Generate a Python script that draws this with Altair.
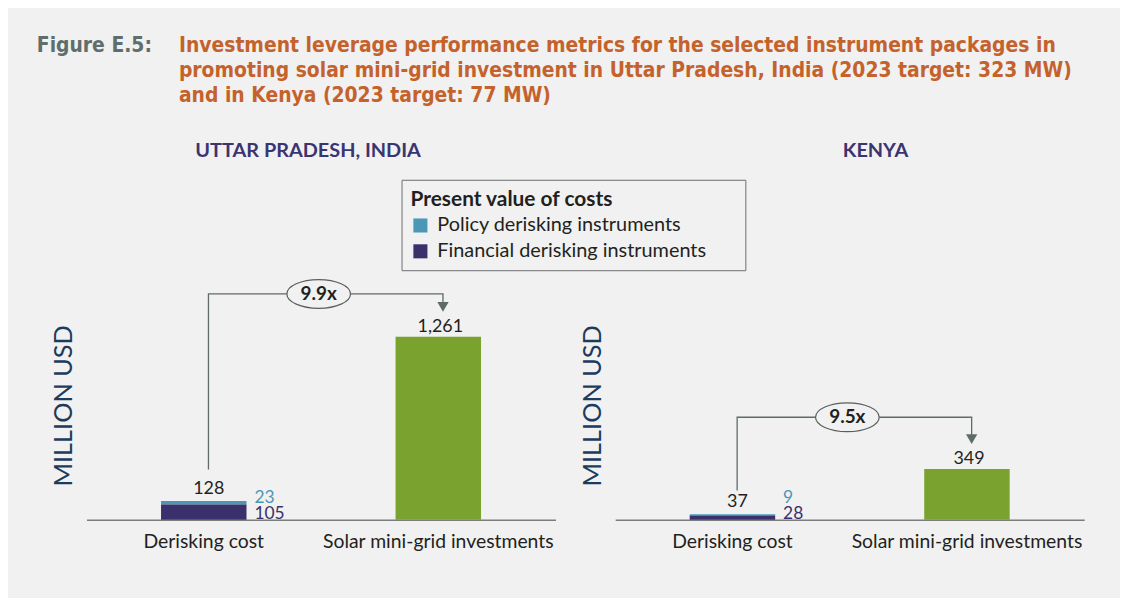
import altair as alt
import pandas as pd

# ---------------- data ----------------
panels = ["UTTAR PRADESH, INDIA", "KENYA"]
categories = ["Derisking cost", "Solar mini-grid investments"]
components = ["Policy derisking instruments", "Financial derisking instruments"]
policy_cost = [23, 9]
financial_cost = [105, 28]
derisking_total = [128, 37]
solar_investment = [1261, 349]
leverage = ["9.9x", "9.5x"]
# annotation bracket heights (million USD)
bracket_start = [345, 201]
bracket_level = [1556, 706]

title_lead = "Figure E.5:"
title_lines = [
    "Investment leverage performance metrics for the selected instrument packages in",
    "promoting solar mini-grid investment in Uttar Pradesh, India (2023 target: 323 MW)",
    "and in Kenya (2023 target: 77 MW)",
]
legend_title = "Present value of costs"
y_title = "MILLION USD"

# ---------------- style ----------------
BG = "#f0f1f0"
GREEN = "#7aa22f"
PURPLE = "#3a306b"
TEAL = "#4b98b6"
TXT = "#231f20"
LINE = "#5f6b68"
FONT = "Lato"
TFONT = "DejaVu Sans Condensed"

Y_MAX = 1576
PLOT_W = 472
PLOT_H = 230
GAP = 60
UPX = Y_MAX / PLOT_H  # data units per pixel


def x_enc(field="category", band=None):
    kw = {}
    if band is not None:
        kw["bandPosition"] = band
    return alt.X(
        f"{field}:N",
        scale=alt.Scale(domain=categories, paddingInner=0, paddingOuter=0),
        axis=alt.Axis(
            title=None, labelAngle=0, ticks=False, grid=False,
            domainColor="#7b7d7c", domainWidth=1.5, labelLimit=400,
            labelFont=FONT, labelFontSize=19.5, labelColor=TXT, labelPadding=13,
        ),
        **kw,
    )


def y_enc(field):
    return alt.Y(
        f"{field}:Q",
        scale=alt.Scale(domain=[0, Y_MAX]),
        axis=alt.Axis(
            title=y_title, labels=False, ticks=False, domain=False, grid=False,
            titleFont=FONT, titleFontSize=25.5, titleFontWeight="normal",
            titleColor="#1c3c5e", titlePadding=10,
        ),
    )


def panel(i, first):
    stack = pd.DataFrame({
        "category": [categories[0]] * 2,
        "component": components,
        "value": [policy_cost[i], financial_cost[i]],
        "ord": [1, 0],
    })
    total = pd.DataFrame({"category": [categories[0]], "value": [derisking_total[i]]})
    solar = pd.DataFrame({"category": [categories[1]], "value": [solar_investment[i]]})
    comp = pd.DataFrame({
        "category": [categories[0]] * 2,
        "component": components,
        "value": [policy_cost[i], financial_cost[i]],
        "zero": [0, 0],
    })
    arrow_c = solar_investment[i] + 30 * UPX
    bracket = pd.DataFrame({
        "category": [categories[0], categories[0], categories[1], categories[1]],
        "y": [bracket_start[i], bracket_level[i], bracket_level[i], arrow_c],
        "ord": [0, 1, 2, 3],
    })
    arrow = pd.DataFrame({"category": [categories[1]], "y": [arrow_c]})
    badge = pd.DataFrame({"category": [categories[0]], "y": [bracket_level[i]],
                          "label": [leverage[i]]})
    ptitle = pd.DataFrame({"t": [panels[i]]})

    legend = None
    if first:
        legend = alt.Legend(
            orient="none", legendX=317, legendY=-112, title=legend_title,
            titleFont=FONT, titleFontSize=21, titleFontWeight="bold", titleColor=TXT,
            titleLimit=400, labelLimit=400,
            labelFont=FONT, labelFontSize=20, labelColor=TXT,
            symbolType="square", symbolSize=200, symbolStrokeWidth=0,
            strokeColor="#6d6e70", padding=9, rowPadding=6, titlePadding=6,
            labelOffset=7, labelExpr="datum.label + '\u2003\u2003\u200b'",
        )

    bars = alt.Chart(stack).mark_bar(size=86).encode(
        x=x_enc(),
        y=y_enc("value"),
        color=alt.Color("component:N",
                        scale=alt.Scale(domain=components, range=[TEAL, PURPLE]),
                        legend=legend),
        order=alt.Order("ord:Q", sort="ascending"),
    )
    solar_bar = alt.Chart(solar).mark_bar(size=86, color=GREEN).encode(
        x=x_enc(), y=y_enc("value"))
    total_lbl = alt.Chart(total).mark_text(
        font=FONT, fontSize=18, color=TXT, dx=5, dy=-7, baseline="alphabetic"
    ).encode(x=x_enc(), y=y_enc("value"), text="value:Q")
    solar_lbl = alt.Chart(solar).mark_text(
        font=FONT, fontSize=18, color=TXT, dx=2, dy=-5, baseline="alphabetic"
    ).encode(x=x_enc(), y=y_enc("value"), text=alt.Text("value:Q", format=","))
    pol_lbl = alt.Chart(comp[comp.component == components[0]]).mark_text(
        font=FONT, fontSize=17.5, color=TEAL, dx=51, dy=-17, align="left",
        baseline="alphabetic"
    ).encode(x=x_enc(), y=y_enc("zero"), text="value:Q")
    fin_lbl = alt.Chart(comp[comp.component == components[1]]).mark_text(
        font=FONT, fontSize=17.5, color=PURPLE, dx=51, dy=-1, align="left",
        baseline="alphabetic"
    ).encode(x=x_enc(), y=y_enc("zero"), text="value:Q")
    br = alt.Chart(bracket).mark_line(color=LINE, strokeWidth=1.3).encode(
        x=x_enc(band=0.52), y=y_enc("y"), order="ord:Q")
    tri = alt.Chart(arrow).mark_point(
        shape="triangle-down", filled=True, color=LINE, size=130, opacity=1
    ).encode(x=x_enc(band=0.52), y=y_enc("y"))
    ell = alt.Chart(badge).mark_point(
        shape="M-1,0A1,0.453,0,1,1,1,0A1,0.453,0,1,1,-1,0Z",
        filled=True, fill=BG, stroke="#5a5f5e", strokeWidth=1.2, size=4096, opacity=1,
    ).encode(x=x_enc(band=0.99), y=y_enc("y"))
    ell_txt = alt.Chart(badge).mark_text(
        font=FONT, fontSize=19, fontWeight="bold", color=TXT, baseline="middle"
    ).encode(x=x_enc(band=0.99), y=y_enc("y"), text="label:N")
    pt = alt.Chart(ptitle).mark_text(
        font=FONT, fontSize=20, fontWeight="bold", color="#3a3570",
        baseline="alphabetic", align="center",
    ).encode(x=alt.value(223 if first else 262), y=alt.value(-135), text="t:N")

    layers = [bars, solar_bar, total_lbl, solar_lbl, pol_lbl, fin_lbl, br, tri,
              ell, ell_txt, pt]
    if first:
        lead = alt.Chart(pd.DataFrame({"t": [title_lead]})).mark_text(
            font=TFONT, fontSize=21, fontWeight="bold", color="#5d6e6d",
            baseline="alphabetic", align="left",
        ).encode(x=alt.value(-50), y=alt.value(-241), text="t:N")
        main = alt.Chart(pd.DataFrame({"t": ["\n".join(title_lines)]})).mark_text(
            font=TFONT, fontSize=21, fontWeight="bold", color="#c5622c",
            baseline="alphabetic", align="left", lineBreak="\n", lineHeight=25.5,
        ).encode(x=alt.value(93), y=alt.value(-241), text="t:N")
        layers += [lead, main]
    return alt.layer(*layers).properties(
        width=PLOT_W, height=PLOT_H,
        view=alt.ViewBackground(strokeWidth=0, strokeOpacity=0),
    )


chart = alt.hconcat(panel(0, True), panel(1, False), spacing=GAP, bounds="flush").resolve_legend(
    color="independent"
).resolve_scale(color="independent").properties(
    background=BG,
    padding={"left": 29, "top": 25, "right": 36, "bottom": 45},
).configure_view(stroke=None).configure_axis(grid=False).configure(font=FONT)

chart.save("out.html", embed_options={"renderer": "svg", "actions": False})
